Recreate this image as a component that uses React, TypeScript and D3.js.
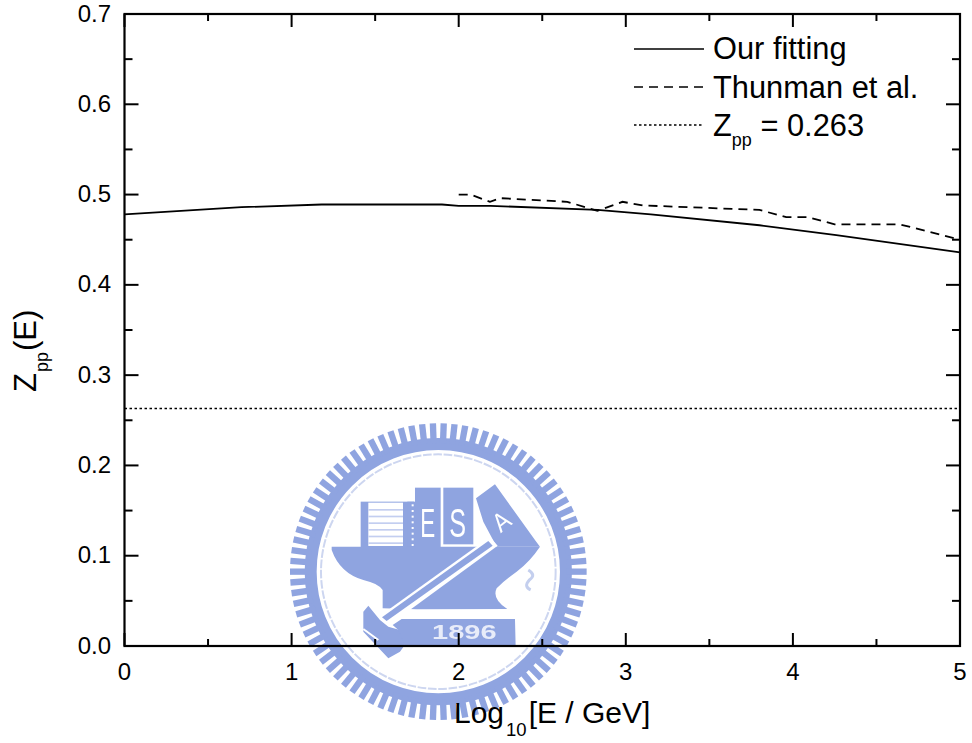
import React from "react";
import * as d3 from "d3";

const fitX = [0, 0.7, 1.18, 1.9, 2.0, 2.19, 2.83, 3.15, 3.8, 4.26, 5];
const fitY = [0.478, 0.486, 0.489, 0.489, 0.4875, 0.4875, 0.483, 0.478, 0.466, 0.455, 0.436];
const thunX = [2.0, 2.07, 2.187, 2.25, 2.65, 2.83, 2.98, 3.1, 3.8, 3.96, 4.09, 4.25, 4.64, 5];
const thunY = [0.5, 0.5, 0.492, 0.496, 0.492, 0.482, 0.492, 0.488, 0.483, 0.475, 0.475, 0.467, 0.467, 0.45];
const constX = [0, 5];
const constY = [0.263, 0.263];
const xTicks = [0, 1, 2, 3, 4, 5];
const yTicks = [0, 0.1, 0.2, 0.3, 0.4, 0.5, 0.6, 0.7];
const xMinor = [0.5, 1.5, 2.5, 3.5, 4.5];
const yMinor = [0.05, 0.15, 0.25, 0.35, 0.45, 0.55, 0.65];
const legendLabels = ["Our fitting", "Thunman et al."];

const FONT = "'Liberation Sans', Arial, sans-serif";
const BLUE = "#8fa4e0";
const x = d3.scaleLinear().domain([0, 5]).range([124.5, 960]);
const y = d3.scaleLinear().domain([0, 0.7]).range([646, 14]);
const line = d3.line<number>().x((d) => d[0]).y((d) => d[1]);
const path = (xs: number[], ys: number[]) =>
  line(xs.map((v, i) => [x(v), y(ys[i])]) as any) as string;

function Logo() {
  const teeth = d3.range(86).map((i) => (i / 86) * 2 * Math.PI);
  const cx = 475, cy = 470;
  const stripeLines = d3.range(6).map((i) => 282 + i * 20);
  const dots = d3.range(8).map((i) => 268 + i * 17);
  return (
    <g transform="translate(280,415) scale(0.3333)" filter="url(#soft)">
      <circle cx={cx} cy={cy} r={383} fill="none" stroke={BLUE} strokeWidth={36} />
      {teeth.map((a, i) => (
        <line key={i} x1={cx + 385 * Math.cos(a)} y1={cy + 385 * Math.sin(a)} x2={cx + 445 * Math.cos(a)} y2={cy + 445 * Math.sin(a)} stroke={BLUE} strokeWidth={19} />
      ))}
      <circle cx={cx} cy={cy} r={352} fill="none" stroke="#cdd6f0" strokeWidth={6} strokeDasharray="26 5" />
      <g transform="translate(120,180)">
        <path d="M35,215 L660,215 Q630,260 590,290 Q555,315 530,340 Q515,372 562,402 L290,403 L188,400 L188,345 Q175,325 130,315 Q60,295 35,225 Z" fill={BLUE} />
        <rect x={122} y={80} width={160} height={136} fill={BLUE} />
        <rect x={145} y={83} width={104} height={130} fill="#ffffff" />
        {stripeLines.map((s) => (
          <rect key={s} x={145} y={s - 180} width={104} height={5} fill="#c3cef0" />
        ))}
        <rect x={262} y={80} width={24} height={136} fill={BLUE} />
        {dots.map((d) => (
          <rect key={d} x={275} y={d - 180} width={6} height={6} fill="#ffffff" />
        ))}
        <rect x={285} y={38} width={77} height={178} fill={BLUE} />
        <rect x={370} y={38} width={90} height={170} fill={BLUE} />
        <path d="M468,70 L525,28 L645,195 L660,215 L530,215 L490,140 Z" fill={BLUE} />
        <text transform="translate(323,186) scale(0.55,1)" textAnchor="middle" fontFamily={FONT} fontSize={122} fill="#ffffff">E</text>
        <text transform="translate(413,186) scale(0.62,1)" textAnchor="middle" fontFamily={FONT} fontSize={122} fill="#ffffff">S</text>
        <text transform="translate(545,140) rotate(-38) scale(0.9,1)" y={26} textAnchor="middle" fontFamily={FONT} fontSize={78} fill="#ffffff">A</text>
        <path d="M510,185 L533,212 L205,452 L172,428 Z" fill="#ffffff" />
        <path d="M505,198 L518,212 L200,438 L186,427 Z" fill={BLUE} />
        <path d="M145,392 L180,435 L205,455 L240,465 L258,505 L240,530 L205,550 L130,470 L130,410 Z" fill={BLUE} />
        <path d="M130,462 L175,495" fill="none" stroke="#ffffff" strokeWidth={6} />
        <path d="M245,432 L585,432 L587,512 L256,512 L235,465 L218,450 Z" fill={BLUE} />
        <text transform="translate(433,493) scale(1.45,1)" textAnchor="middle" fontFamily={FONT} fontWeight="bold" fontSize={60} fill="#e8ecf9">1896</text>
        <path d="M625,285 Q650,300 628,315 Q610,335 632,345" fill="none" stroke="#c4cfee" strokeWidth={9} />
      </g>
    </g>
  );
}

export default function App() {
  const base = 646, top = 14, left = 124.5, right = 960;
  const black = "#000";
  return (
    <svg width={972} height={743} style={{ position: "absolute", left: 0, top: 0, background: "#fff" }}>
      <defs>
        <filter id="soft"><feGaussianBlur stdDeviation="1.3" /></filter>
      </defs>
      <Logo />
      <path d={path(fitX, fitY)} fill="none" stroke={black} strokeWidth={1.8} />
      <path d={path(thunX, thunY)} fill="none" stroke={black} strokeWidth={1.8} strokeDasharray="9 6" />
      <path d={path(constX, constY)} fill="none" stroke={black} strokeWidth={1.6} strokeDasharray="2.5 2.5" />
      <rect x={left} y={top} width={right - left} height={base - top} fill="none" stroke={black} strokeWidth={2.2} />
      {xTicks.map((t) => (
        <g key={t}>
          <line x1={x(t)} x2={x(t)} y1={base} y2={base - 13} stroke={black} strokeWidth={2} />
          <line x1={x(t)} x2={x(t)} y1={top} y2={top + 13} stroke={black} strokeWidth={2} />
          <text x={x(t)} y={680} textAnchor="middle" fontFamily={FONT} fontSize={24} fill={black}>{t}</text>
        </g>
      ))}
      {xMinor.map((t) => (
        <g key={t}>
          <line x1={x(t)} x2={x(t)} y1={base} y2={base - 7} stroke={black} strokeWidth={2} />
          <line x1={x(t)} x2={x(t)} y1={top} y2={top + 7} stroke={black} strokeWidth={2} />
        </g>
      ))}
      {yTicks.map((t) => (
        <g key={t}>
          <line x1={left} x2={left + 14} y1={y(t)} y2={y(t)} stroke={black} strokeWidth={2} />
          <line x1={right} x2={right - 14} y1={y(t)} y2={y(t)} stroke={black} strokeWidth={2} />
          <text x={111} y={y(t) + 7.5} textAnchor="end" fontFamily={FONT} fontSize={24} fill={black}>{t.toFixed(1)}</text>
        </g>
      ))}
      {yMinor.map((t) => (
        <g key={t}>
          <line x1={left} x2={left + 8} y1={y(t)} y2={y(t)} stroke={black} strokeWidth={2} />
          <line x1={right} x2={right - 8} y1={y(t)} y2={y(t)} stroke={black} strokeWidth={2} />
        </g>
      ))}
      <text x={454} y={723} fontFamily={FONT} fontSize={30} fill={black}>Log<tspan fontSize={18.5} dy={13} dx={2}>10</tspan><tspan dy={-13} dx={2}>[E / GeV]</tspan></text>
      <text transform="translate(36,392) rotate(-90)" fontFamily={FONT} fontSize={31} fill={black}>Z<tspan fontSize={18} dy={12} dx={1}>pp</tspan><tspan dy={-12} dx={1}>(E)</tspan></text>
      <line x1={634} x2={704} y1={49} y2={49} stroke={black} strokeWidth={1.6} />
      <line x1={634} x2={704} y1={87} y2={87} stroke={black} strokeWidth={1.6} strokeDasharray="9 6" />
      <line x1={634} x2={704} y1={125} y2={125} stroke={black} strokeWidth={1.6} strokeDasharray="2.5 2.5" />
      <text x={713} y={59} fontFamily={FONT} fontSize={30.8} fill={black}>{legendLabels[0]}</text>
      <text x={713} y={97.5} fontFamily={FONT} fontSize={30.8} fill={black}>{legendLabels[1]}</text>
      <text x={713} y={136} fontFamily={FONT} fontSize={30.8} fill={black}>Z<tspan fontSize={18} dy={10}>pp</tspan><tspan dy={-10}> = 0.263</tspan></text>
    </svg>
  );
}
